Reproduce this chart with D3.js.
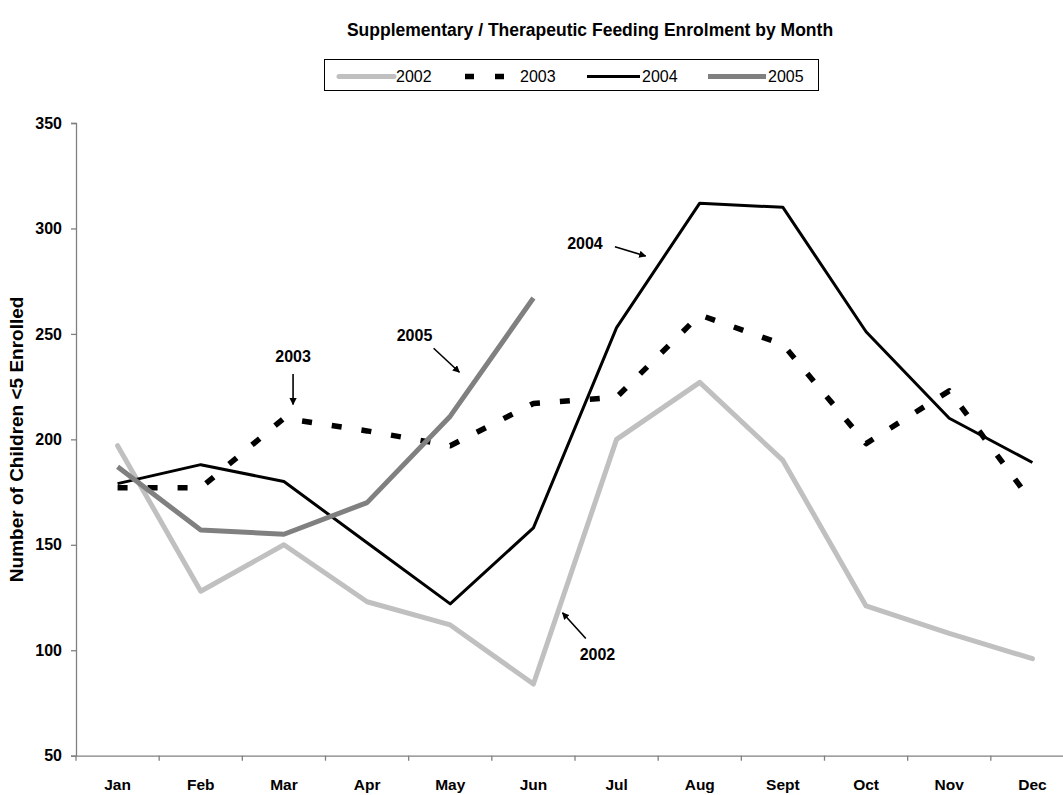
<!DOCTYPE html>
<html>
<head>
<meta charset="utf-8">
<script src="https://cdn.jsdelivr.net/npm/d3@7"></script>
<style>
  body { margin: 0; background: #fff; }
  text { font-family: "Liberation Sans", Arial, sans-serif; }
</style>
</head>
<body>
<div id="chart"></div>
<script>
// data
var months = ["Jan", "Feb", "Mar", "Apr", "May", "Jun", "Jul", "Aug", "Sept", "Oct", "Nov", "Dec"];
var years = ["2002", "2003", "2004", "2005"];
var v2002 = [197, 128, 150, 123, 112, 84, 200, 227, 190, 121, 108, 96];
var v2003 = [177, 177, 210, 204, 197, 217, 220, 259, 245, 198, 223, 170];
var v2004 = [179, 188, 180, 151, 122, 158, 253, 312, 310, 251, 210, 189];
var v2005 = [187, 157, 155, 170, 211, 267];
var yTicks = [50, 100, 150, 200, 250, 300, 350];

// annotation labels, in data space (month index, value)
var notes = [
  {label: "2003", tx: 2.11, tv: 239.5, x1: 2.11, v1: 231, x2: 2.11, v2: 216.5},
  {label: "2005", tx: 3.57, tv: 249.5, x1: 3.80, v1: 243.2, x2: 4.11, v2: 231.8},
  {label: "2004", tx: 5.62, tv: 293.2, x1: 5.98, v1: 291.3, x2: 6.35, v2: 286.9},
  {label: "2002", tx: 5.77, tv: 98.2, x1: 5.63, v1: 105.6, x2: 5.35, v2: 117.8}
];

var W = 1063, H = 795;
var margin = {top: 123, left: 76},
    width = 998,
    height = 632.7;

var svg = d3.select("#chart")
  .append("svg")
    .attr("width", W)
    .attr("height", H);

var g = svg.append("g")
    .attr("transform", "translate(" + margin.left + "," + margin.top + ")");

var x = d3.scaleBand()
    .domain(months)
    .range([0, width])
    .padding(0);

// month index -> pixel (centre of band)
var xi = d3.scaleLinear()
    .domain([0, 12])
    .range([0, width]);
function xc(i) { return xi(i + 0.5); }

var y = d3.scaleLinear()
    .domain([50, 350])
    .range([height, 0]);

// title
svg.append("text")
    .attr("x", 590)
    .attr("y", 36)
    .attr("text-anchor", "middle")
    .style("font-size", "17.5px")
    .style("font-weight", "bold")
    .text("Supplementary / Therapeutic Feeding Enrolment by Month");

// y axis
var yAxis = g.append("g")
    .call(d3.axisLeft(y).tickValues(yTicks).tickSize(5).tickPadding(9));
yAxis.selectAll("text")
    .style("font-size", "16px")
    .style("font-weight", "bold")
    .style("font-family", "Liberation Sans, Arial, sans-serif")
    .attr("fill", "#000");
yAxis.selectAll("line, path").attr("stroke", "#808080").attr("stroke-width", 1.3);

// x axis: labels in band centres, ticks on band edges
var xAxis = g.append("g")
    .attr("transform", "translate(0," + height + ")")
    .call(d3.axisBottom(x).tickSize(0).tickPadding(23));
xAxis.selectAll("text")
    .style("font-size", "15.5px")
    .style("font-weight", "bold")
    .style("font-family", "Liberation Sans, Arial, sans-serif")
    .attr("fill", "#000");
xAxis.select("path").attr("stroke", "#808080").attr("stroke-width", 1.3);
xAxis.selectAll(".edge")
  .data(d3.range(0, 13))
  .enter().append("line")
    .attr("x1", function(d) { return xi(d); })
    .attr("x2", function(d) { return xi(d); })
    .attr("y1", 0)
    .attr("y2", 5)
    .attr("stroke", "#808080")
    .attr("stroke-width", 1.3);

// y label
svg.append("text")
    .attr("transform", "translate(23," + (margin.top + height / 2) + ") rotate(-90)")
    .attr("text-anchor", "middle")
    .style("font-size", "19px")
    .style("font-weight", "bold")
    .text("Number of Children <5 Enrolled");

// series styles
var styles = {
  "2002": {color: "#c0c0c0", width: 5, dash: null, cap: "round"},
  "2003": {color: "#000000", width: 5.5, dash: "10,20", cap: "butt"},
  "2004": {color: "#000000", width: 3, dash: null, cap: "butt"},
  "2005": {color: "#808080", width: 5, dash: null, cap: "butt"}
};
var values = {"2002": v2002, "2003": v2003, "2004": v2004, "2005": v2005};

var line = d3.line()
    .x(function(d, i) { return xc(i); })
    .y(function(d) { return y(d); });

years.forEach(function(yr) {
  var s = styles[yr];
  g.append("path")
    .datum(values[yr])
    .attr("d", line)
    .attr("fill", "none")
    .attr("stroke", s.color)
    .attr("stroke-width", s.width)
    .attr("stroke-linejoin", "round")
    .attr("stroke-linecap", s.cap)
    .attr("stroke-dasharray", s.dash);
});

// annotations
svg.append("defs").append("marker")
    .attr("id", "arrow")
    .attr("viewBox", "0 0 10 10")
    .attr("refX", 9)
    .attr("refY", 5)
    .attr("markerWidth", 4.5)
    .attr("markerHeight", 4.5)
    .attr("orient", "auto")
  .append("path")
    .attr("d", "M0,0 L10,5 L0,10 z")
    .attr("fill", "#000");

notes.forEach(function(n) {
  g.append("text")
    .attr("x", xc(n.tx))
    .attr("y", y(n.tv))
    .attr("dy", "0.36em")
    .attr("text-anchor", "middle")
    .style("font-size", "16px")
    .style("font-weight", "bold")
    .text(n.label);
  g.append("line")
    .attr("x1", xc(n.x1))
    .attr("y1", y(n.v1))
    .attr("x2", xc(n.x2))
    .attr("y2", y(n.v2))
    .attr("stroke", "#000")
    .attr("stroke-width", 1.6)
    .attr("marker-end", "url(#arrow)");
});

// legend
var legend = svg.append("g");
legend.append("rect")
    .attr("x", 324.5)
    .attr("y", 59.5)
    .attr("width", 494)
    .attr("height", 31)
    .attr("fill", "#fff")
    .attr("stroke", "#000")
    .attr("stroke-width", 1);

var legX = [339, 465, 587, 708];
var legLen = [55, 40, 53, 58];
years.forEach(function(yr, i) {
  var s = styles[yr];
  legend.append("line")
    .attr("x1", legX[i])
    .attr("x2", legX[i] + legLen[i])
    .attr("y1", 76.5)
    .attr("y2", 76.5)
    .attr("stroke", s.color)
    .attr("stroke-width", s.width)
    .attr("stroke-linecap", s.cap)
    .attr("stroke-dasharray", yr === "2003" ? "9,21" : null);
  legend.append("text")
    .attr("x", legX[i] + legLen[i] + (yr === "2003" ? 15 : 2))
    .attr("y", 76.5)
    .attr("dy", "0.36em")
    .style("font-size", "16px")
    .text(yr);
});
</script>
</body>
</html>
